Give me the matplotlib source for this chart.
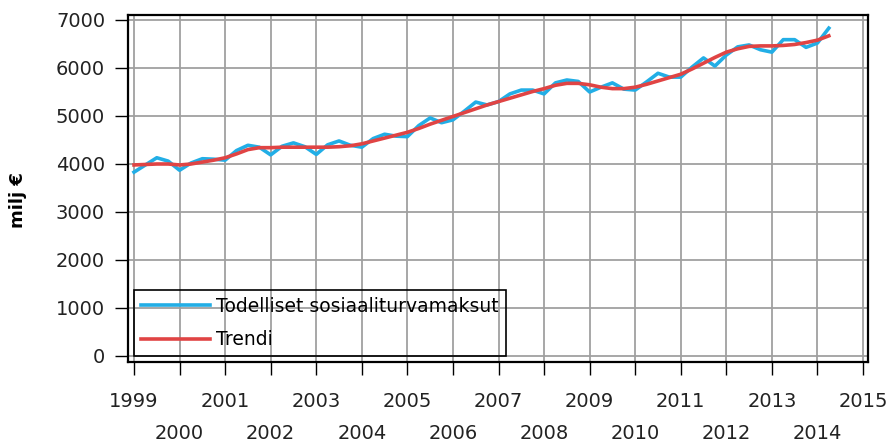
import numpy as np
import matplotlib
matplotlib.use("Agg")
import matplotlib.pyplot as plt

# Quarterly data 1999Q1 - 2014Q2
start_year = 1999
actual = [3830, 3980, 4130, 4060,
          3870, 4020, 4110, 4100,
          4080, 4280, 4390, 4350,
          4190, 4370, 4440, 4360,
          4200, 4400, 4480, 4390,
          4350, 4530, 4620, 4580,
          4570, 4800, 4960, 4860,
          4920, 5100, 5290, 5230,
          5300, 5460, 5540, 5540,
          5460, 5690, 5750, 5720,
          5500, 5600, 5690, 5560,
          5540, 5710, 5890, 5810,
          5810, 6020, 6210, 6040,
          6270, 6440, 6480, 6380,
          6330, 6590, 6590, 6430,
          6520, 6830]
trend = [3980, 3990, 4000, 4000,
         3980, 4000, 4040, 4080,
         4130, 4210, 4300, 4340,
         4340, 4350, 4350, 4350,
         4350, 4350, 4360, 4380,
         4420, 4480, 4540, 4600,
         4660, 4740, 4830, 4910,
         4990, 5070, 5150, 5230,
         5300, 5370, 5440, 5510,
         5570, 5640, 5680, 5680,
         5650, 5600, 5570, 5570,
         5600, 5660, 5730, 5800,
         5870, 5980, 6100, 6220,
         6330, 6400, 6450, 6460,
         6460, 6470, 6490, 6530,
         6580, 6670]
series_names = ["Todelliset sosiaaliturvamaksut", "Trendi"]
years = list(range(1999, 2016))
yticks = list(range(0, 7001, 1000))

t = start_year + np.arange(len(actual)) / 4.0

fig = plt.figure(figsize=(8.92, 4.45), dpi=100)
ax = fig.add_axes([128 / 892, 1 - 362 / 445, 740 / 892, 347 / 445])

ax.plot(t, actual, color="#22aee6", lw=2.6, label=series_names[0], zorder=3)
ax.plot(t, trend, color="#e04444", lw=2.6, label=series_names[1], zorder=4)

ax.set_xlim(1998.868, 2015.11)
ax.set_ylim(-125, 7104)

odd = [y for y in years if y % 2 == 1]
even = [y for y in years if y % 2 == 0]
ax.set_xticks(odd)
ax.set_xticklabels([str(y) for y in odd])
ax.set_xticks(even, minor=True)
ax.set_xticklabels([str(y) for y in even], minor=True)
ax.set_yticks(yticks)

ax.tick_params(axis="both", which="both", length=9.5, width=1.0, color="black",
               labelsize=14, labelcolor="#222222")
ax.tick_params(axis="x", which="major", pad=12)
ax.tick_params(axis="x", which="minor", pad=35)
ax.tick_params(axis="y", pad=7)

ax.grid(True, which="both", axis="x", color="#a0a0a0", lw=1.3)
ax.grid(True, which="major", axis="y", color="#a0a0a0", lw=1.3)
ax.set_axisbelow(True)

for s in ax.spines.values():
    s.set_linewidth(1.6)
    s.set_color("black")

ax.set_ylabel("milj €", fontsize=13, fontweight="bold")
ax.yaxis.set_label_coords(-0.137, 0.467)

leg = ax.legend(loc="lower left", bbox_to_anchor=(0.0081, 0.0173), borderaxespad=0,
                fancybox=False, edgecolor="black", facecolor="none", framealpha=1,
                fontsize=13.5, handlelength=3.7, handletextpad=0.35, borderpad=0.35,
                labelspacing=0.78)
leg.get_frame().set_linewidth(1.2)

fig.savefig("out.png", dpi=100)
